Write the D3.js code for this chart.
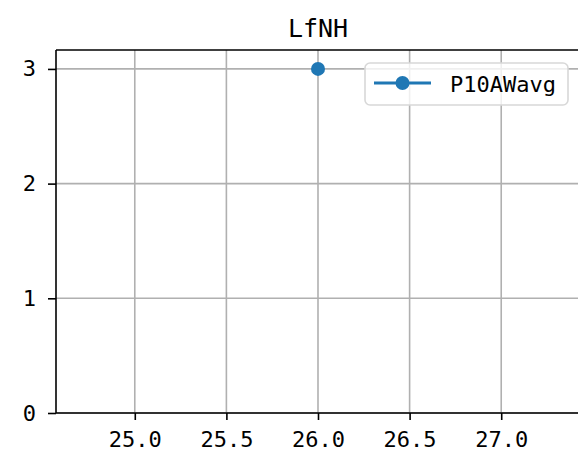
<!DOCTYPE html>
<meta charset="utf-8">
<script src="https://cdn.jsdelivr.net/npm/d3@7"></script>
<style>
body { margin: 0; background: #fff; }
text { font-family: "DejaVu Sans Mono", monospace; fill: #000; }
.grid line { stroke: #b0b0b0; stroke-width: 1.6px; }
</style>
<body>
<script>
var title = "LfNH"
var seriesName = "P10AWavg"
var xValues = [26]
var yValues = [3]
var xTicks = [25.0, 25.5, 26.0, 26.5, 27.0]
var yTicks = [0, 1, 2, 3]

var W = 578, H = 456
var m = {left: 56, top: 50, right: -2, bottom: 43}
var w = W - m.left - m.right
var h = H - m.top - m.bottom

var svg = d3.select("body").append("svg").attr("width", W).attr("height", H)
var g = svg.append("g").attr("transform", "translate(" + m.left + "," + m.top + ")")

var x = d3.scaleLinear().domain([24.57, 27.43]).range([0, w])
var y = d3.scaleLinear().domain([0, 3.165]).range([h, 0])

// grid
g.append("g").attr("class", "grid").selectAll("line").data(xTicks).enter().append("line")
    .attr("x1", d => x(d)).attr("x2", d => x(d)).attr("y1", 0).attr("y2", h)
g.append("g").attr("class", "grid").selectAll("line").data(yTicks).enter().append("line")
    .attr("x1", 0).attr("x2", w).attr("y1", d => y(d)).attr("y2", d => y(d))

// axes
var xAxis = g.append("g").attr("transform", "translate(0," + h + ")")
    .call(d3.axisBottom(x).tickValues(xTicks).tickFormat(d3.format(".1f")).tickSize(7).tickPadding(11))
var yAxis = g.append("g")
    .call(d3.axisLeft(y).tickValues(yTicks).tickFormat(d3.format("d")).tickSize(8).tickPadding(12))
;[xAxis, yAxis].forEach(a => {
    a.select(".domain").remove()
    a.selectAll("line").attr("stroke", "#000").attr("stroke-width", 1.6)
    a.selectAll("text").style("font-size", "22px").style("font-family", '"DejaVu Sans Mono", monospace')
})

// spines (the right one falls off the page)
g.append("line").attr("x1", 0).attr("x2", 0).attr("y1", 0).attr("y2", h).attr("stroke", "#000").attr("stroke-width", 1.6)
g.append("line").attr("x1", 0).attr("x2", w).attr("y1", 0).attr("y2", 0).attr("stroke", "#000").attr("stroke-width", 1.6)
g.append("line").attr("x1", 0).attr("x2", w).attr("y1", h).attr("y2", h).attr("stroke", "#000").attr("stroke-width", 1.6)
g.append("line").attr("x1", w).attr("x2", w).attr("y1", 0).attr("y2", h).attr("stroke", "#000").attr("stroke-width", 1.6)

// data
var pts = xValues.map((d, i) => [d, yValues[i]])
g.append("path").datum(pts).attr("fill", "none").attr("stroke", "#1f77b4").attr("stroke-width", 3)
    .attr("d", d3.line().x(d => x(d[0])).y(d => y(d[1])))
g.selectAll("circle.pt").data(pts).enter().append("circle").attr("class", "pt")
    .attr("cx", d => x(d[0])).attr("cy", d => y(d[1])).attr("r", 7).attr("fill", "#1f77b4")

// title
svg.append("text").attr("x", m.left + w / 2).attr("y", 37).attr("text-anchor", "middle")
    .style("font-size", "25px").text(title)

// legend
var lg = svg.append("g").attr("transform", "translate(365,63)")
lg.append("rect").attr("width", 203).attr("height", 42).attr("rx", 5)
    .attr("fill", "rgba(255,255,255,0.8)").attr("stroke", "#d8d8d8").attr("stroke-width", 1.6)
lg.append("line").attr("x1", 9).attr("x2", 66).attr("y1", 20).attr("y2", 20).attr("stroke", "#1f77b4").attr("stroke-width", 3)
lg.append("circle").attr("cx", 37.5).attr("cy", 20).attr("r", 7).attr("fill", "#1f77b4")
lg.append("text").attr("x", 85).attr("y", 29).style("font-size", "22px").text(seriesName)
</script>
</body>
